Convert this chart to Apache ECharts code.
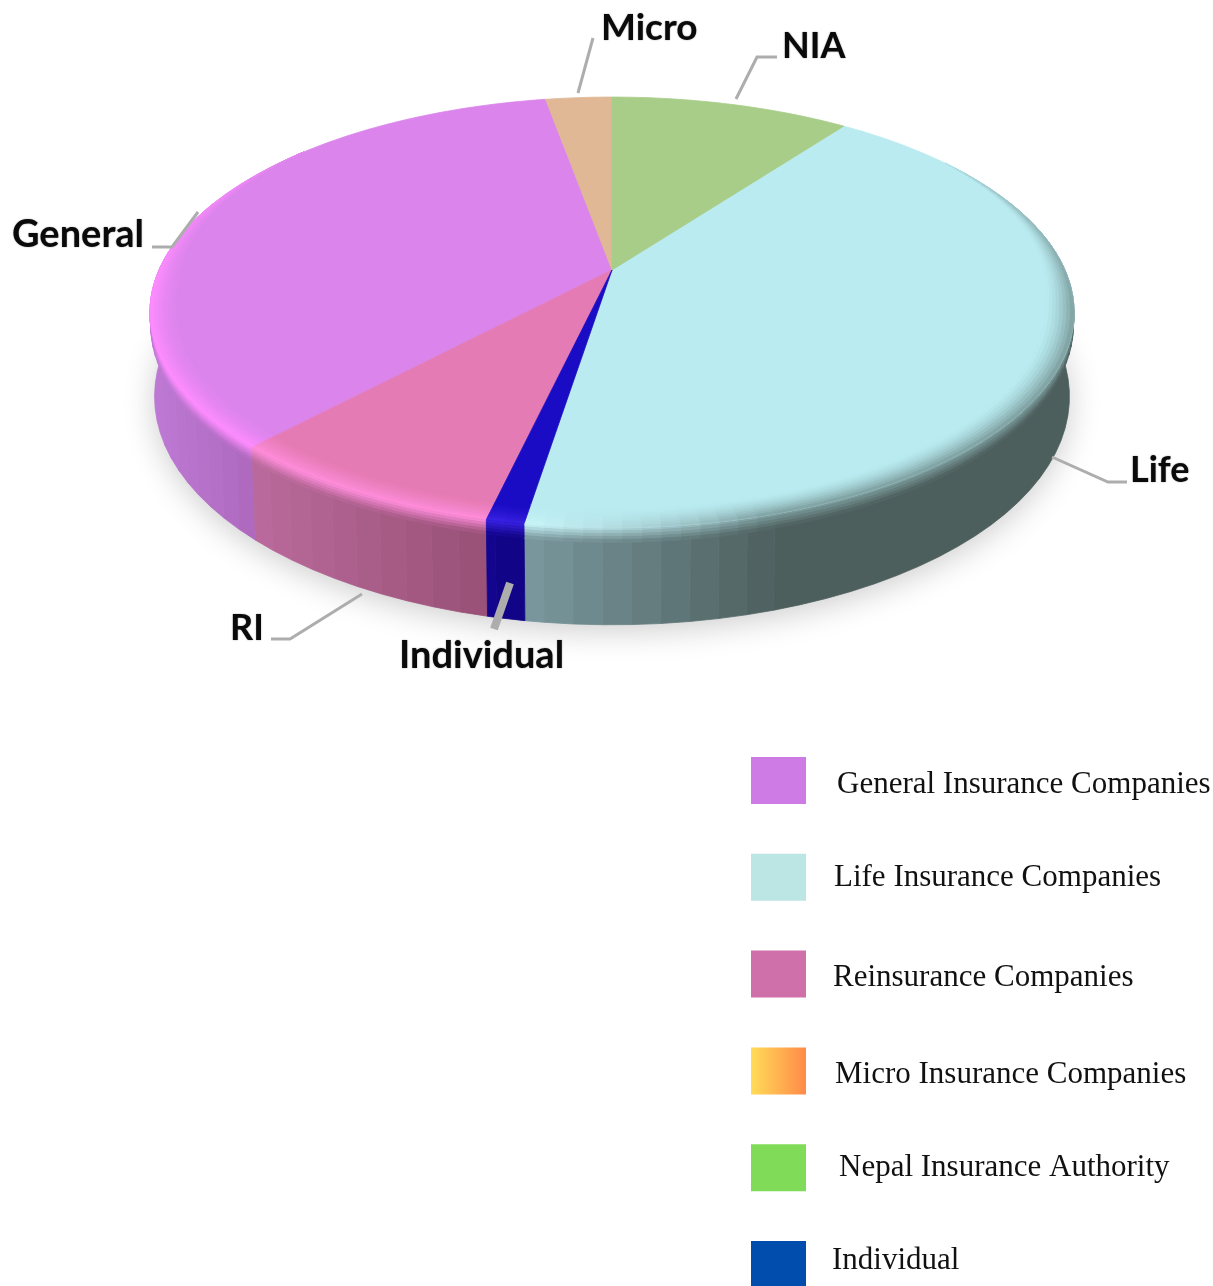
<!DOCTYPE html>
<html><head><meta charset="utf-8">
<style>html,body{margin:0;padding:0;background:#fff;overflow:hidden}#c{width:1213px;height:1286px}</style>
<script src="https://cdn.jsdelivr.net/npm/echarts@6/dist/echarts.min.js"></script>
</head><body><div id="c"></div>
<script>
// ---- data (legend order) ----
const categories = ['General Insurance Companies','Life Insurance Companies','Reinsurance Companies','Micro Insurance Companies','Nepal Insurance Authority','Individual'];
const shortLabels = ['General','Life','RI','Micro','NIA','Individual'];
const values = [35.3, 42.4, 8.3, 2.8, 10.1, 1.1];
// clockwise order of slices from twelve o'clock
const sliceOrder = [4, 1, 5, 2, 0, 3];

// ---- styles ----
const legendColors = ['#CE7BE6','#BCE6E3','#D070AA',
  {type:'linear',x:0,y:0,x2:1,y2:0,colorStops:[{offset:0,color:'#FFDC58'},{offset:1,color:'#FF8A48'}]},
  '#80DC58','#004DAE'];
const legendTextInset = [26,23,22,24,28,21];
const legendTextPad = [[8,0],[2,0],[8,0],[8,0],[0,0],[0,8]];
const topColors  = ['#DB84EC','#B9EBF0','#E57BB4','#E0B896','#A8CD88','#1A0BC4'];
const peakColors = ['#FF8CFF','#CFFBFF','#FF8DDC','#F0D0B0','#C0E0A0','#3A22E4'];
const wallLight  = ['#BC78D2','#7A989E','#BA6A9C','#B09070','#80A070','#13058E'];
const wallDark   = ['#AE68BE','#4D5F5D','#985076','#B09070','#80A070','#100482'];
const wallXRange = [[160,250],[525,780],[252,488],[0,1],[0,1],[488,525]];

// ---- projection of the disc ----
const AX = 612, AY = 270, A = 453, B = 207, K = 0.197;
function pt(tDeg, r, depth) {
  const t = tDeg * Math.PI / 180, u = Math.sin(t) * r, v = -Math.cos(t) * r, s = 1 - K * v;
  const d = depth || 0;
  const dy = d * (81 + 16 * v);
  return [AX + (A * u / s) * (1 - 0.01 * d), AY + B * v / s + dy];
}
function hex(c){return [1,3,5].map(i=>parseInt(c.substr(i,2),16));}
function mix(a,b,f){const x=hex(a),y=hex(b);return '#'+x.map((q,i)=>Math.round(q+(y[i]-q)*f).toString(16).padStart(2,'0')).join('');}
const clamp=(x)=>Math.max(0,Math.min(1,x));

const total = values.reduce((a,b)=>a+b,0);
const startAngle = {};
(function(){let acc=0;sliceOrder.forEach(i=>{startAngle[i]=acc/total*360;acc+=values[i];});})();

// ---- leader lines and label placement ----
const leaders = [
  {line:[[198,212],[172,247],[152,247]], x:12,  y:235, w:3, size:38},
  {line:[[1052,457],[1108,482],[1127,482]], x:1130, y:470, w:3, size:36},
  {line:[[362,594],[290,639],[271,639]], x:230, y:628, w:3, size:36},
  {line:[[593,38],[578,93]], x:601, y:28, w:3, size:37},
  {line:[[736,99],[757,57],[777,57]], x:782, y:46, w:3, size:36},
  {line:[[510,583],[494,629]], x:399, y:656, w:8, size:38}
];

function poly(points, fill, z2) {
  return {type:'polygon', z2, shape:{points}, style:{fill, stroke:fill, lineWidth:0.8}, silent:true};
}

function sliceItem(i) {
  return function(params, api) {
    const val = api.value(0);
    const a0 = startAngle[i], a1 = a0 + val / total * 360;
    const kids = [];
    const r = wallXRange[i];
    const wallAt = mx => mix(wallLight[i], wallDark[i], clamp((mx - r[0]) / (r[1] - r[0])));
    if (i === 0) { // soft shadow beneath the whole disc
      const pts = [];
      for (let t = 0; t < 360; t += 2) pts.push(pt(t, 1, 1));
      kids.push({type:'polygon', z2:1, shape:{points:pts}, silent:true,
        style:{fill:'#d8d8d8', shadowColor:'rgba(0,0,0,0.2)', shadowBlur:32, shadowOffsetX:0, shadowOffsetY:6}});
    }
    // side wall, in flat bands (neighbours of one colour merge)
    const wLo = Math.max(a0, 70), wHi = Math.min(a1, 290);
    let run = null;
    const flush = () => {
      if (!run) return;
      const pts = [];
      run.ts.forEach(t => pts.push(pt(t,1,0)));
      run.ts.slice().reverse().forEach(t => pts.push(pt(t,1,1)));
      kids.push(poly(pts, run.col, 5));
      run = null;
    };
    for (let t = wLo; t < wHi; t += 3) {
      const e = Math.min(t + 3, wHi);
      const col = wallAt((pt(t,1,0)[0] + pt(e,1,0)[0]) / 2);
      if (run && run.col === col) run.ts.push(e);
      else { flush(); run = {col, ts:[t, e]}; }
    }
    flush();
    // top face
    const top = [[AX, AY]];
    for (let t = a0; t < a1; t += 1) top.push(pt(t, 1, 0));
    top.push(pt(a1, 1, 0));
    kids.push(poly(top, topColors[i], 20));
    // rounded front rim
    const topRings = 8, wallRings = 5, rimDepth = 0.15, rimWidth = 0.06;
    const taper = t => Math.min(clamp((t - 55) / 45), clamp((310 - t) / 45));
    const rLo = Math.max(a0, 55), rHi = Math.min(a1, 310);
    for (let t = rLo; t < rHi; t += 2) {
      const e = Math.min(t + 2, rHi);
      const mx = pt((t + e) / 2, 1, 0)[0];
      const wall = wallAt(mx);
      const w = clamp((760 - mx) / 260);
      const tp = Math.sqrt(taper((t + e) / 2));
      const mid = mix(topColors[i], mix(mix(topColors[i], wall, 0.55), peakColors[i], w), tp);
      const rad = (tt, f) => 1 - rimWidth * taper(tt) * (1 - f);
      for (let k = 0; k < topRings; k++) {
        const f0 = k / topRings, f1 = (k + 1) / topRings;
        kids.push(poly([pt(t,rad(t,f0),0),pt(e,rad(e,f0),0),pt(e,rad(e,f1),0),pt(t,rad(t,f1),0)],
          mix(topColors[i], mid, Math.pow((k + 0.5) / topRings, 1.5)), 30));
      }
      if (t < 285) for (let k = 0; k < wallRings; k++) {
        const d0 = rimDepth * k / wallRings, d1 = rimDepth * (k + 1) / wallRings;
        kids.push(poly([pt(t,1,d0),pt(e,1,d0),pt(e,1,d1),pt(t,1,d1)],
          mix(mid, wall, (k + 0.5) / wallRings), 10));
      }
    }
    // callout
    const L = leaders[i];
    kids.push({type:'polyline', z2:60, silent:true, shape:{points:L.line},
      style:{fill:'none', stroke:'#ADADAD', lineWidth:L.w}});
    kids.push({type:'text', z2:61, silent:true, x:L.x, y:L.y,
      style:{text:shortLabels[i], font:'bold '+L.size+'px Lato', fill:'#0a0a0a', textAlign:'left', verticalAlign:'middle',
        textShadowColor:'rgba(0,0,0,0.45)', textShadowBlur:1.5}});
    return {type:'group', children:kids};
  };
}

const chart = echarts.init(document.getElementById('c'), null, {renderer:'canvas'});
chart.setOption({
  animation:false,
  backgroundColor:'#fff',
  legend:{
    orient:'vertical', left:751, top:757, height:600, padding:0,
    itemWidth:55, itemHeight:47, itemGap:49.8, icon:'rect', selectedMode:false,
    formatter:'{r|{name}}',
    data:categories.map((c,i)=>({name:c, icon:'rect', itemStyle:{color:legendColors[i], borderWidth:0},
      textStyle:{padding:[legendTextPad[i][0],0,legendTextPad[i][1],legendTextInset[i]],
        rich:{r:{fontFamily:'Liberation Serif', fontSize:31, color:'#111'}}}}))
  },
  series:categories.map((c,i)=>({
    type:'custom', name:c, coordinateSystem:'none', silent:true,
    itemStyle:{color:topColors[i]},
    renderItem:sliceItem(i), data:[[values[i]]]
  }))
});
</script></body></html>
